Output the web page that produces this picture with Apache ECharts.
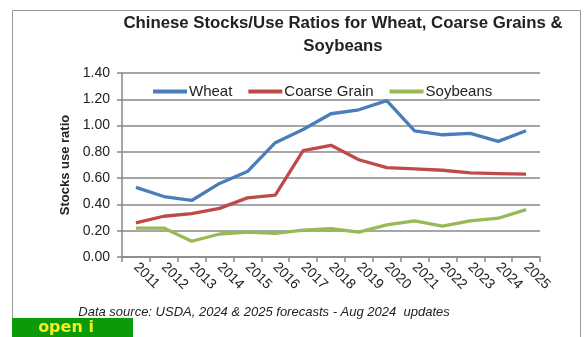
<!DOCTYPE html>
<html><head><meta charset="utf-8">
<script src="https://cdn.jsdelivr.net/npm/echarts@6/dist/echarts.min.js"></script>
<style>html,body{margin:0;padding:0;background:#fff}#c{width:584px;height:337px}</style>
</head><body><div id="c"></div>
<script>
const years = ['2011','2012','2013','2014','2015','2016','2017','2018','2019','2020','2021','2022','2023','2024','2025'];
const wheat = [0.53,0.46,0.43,0.56,0.65,0.87,0.97,1.09,1.12,1.19,0.96,0.93,0.94,0.88,0.96];
const coarse = [0.26,0.31,0.33,0.37,0.45,0.47,0.81,0.85,0.74,0.68,0.67,0.66,0.64,0.635,0.63];
const soy = [0.22,0.22,0.12,0.175,0.19,0.18,0.205,0.215,0.19,0.245,0.275,0.235,0.275,0.295,0.36];
const chart = echarts.init(document.getElementById('c'));
const F = 'Liberation Sans';
chart.setOption({
  animation:false,
  graphic:[
    {type:'rect',shape:{x:12.5,y:10.5,width:568,height:340},style:{fill:'none',stroke:'#999',lineWidth:1},z:-1},
    {type:'rect',shape:{x:12,y:318,width:121,height:19},style:{fill:'#0a9a0a'}},
    {type:'text',x:66,y:328,style:{text:'open i',fill:'#f0f020',font:'bold 16px DejaVu Sans',align:'center',verticalAlign:'middle'}},
    {type:'text',x:264,y:312,style:{text:'Data source: USDA, 2024 & 2025 forecasts - Aug 2024  updates',fill:'#222',font:'italic 13px '+F,align:'center',verticalAlign:'middle'}}
  ],
  title:{text:'Chinese Stocks/Use Ratios for Wheat, Coarse Grains &\nSoybeans',left:338,textAlign:'center',top:7,
    textStyle:{fontFamily:F,fontWeight:'bold',fontSize:16.8,color:'#222',lineHeight:23}},
  legend:{left:148,top:79,itemWidth:34,itemHeight:4,itemGap:16,icon:'rect',
    textStyle:{fontFamily:F,fontSize:15,color:'#222',padding:[0,0,0,-3]},
    data:['Wheat','Coarse Grain','Soybeans']},
  grid:{left:122,right:44,top:73,bottom:80,containLabel:false},
  xAxis:{type:'category',data:years,boundaryGap:true,
    axisLine:{lineStyle:{color:'#888',width:1.5}},
    axisTick:{show:true,length:5,lineStyle:{color:'#888',width:1.5}},
    axisLabel:{rotate:-45,fontFamily:F,fontSize:14,color:'#222',margin:8}},
  yAxis:{type:'value',min:0,max:1.4,interval:0.2,name:'Stocks use ratio',nameLocation:'middle',nameGap:50,
    nameTextStyle:{fontFamily:F,fontWeight:'bold',fontSize:13,color:'#222'},
    axisLine:{show:true,lineStyle:{color:'#888',width:1.5}},
    axisTick:{show:true,length:5,lineStyle:{color:'#888',width:1.5}},
    splitLine:{lineStyle:{color:'#888',width:1.5}},
    axisLabel:{fontFamily:F,fontSize:14,color:'#222',margin:12,formatter:v=>v.toFixed(2)}},
  series:[
    {name:'Wheat',type:'line',data:wheat,showSymbol:false,symbol:'none',lineStyle:{width:3.3,color:'#4a7ebb'},itemStyle:{color:'#4a7ebb'}},
    {name:'Coarse Grain',type:'line',data:coarse,showSymbol:false,symbol:'none',lineStyle:{width:3.3,color:'#be4b48'},itemStyle:{color:'#be4b48'}},
    {name:'Soybeans',type:'line',data:soy,showSymbol:false,symbol:'none',lineStyle:{width:3.3,color:'#98b954'},itemStyle:{color:'#98b954'}}
  ]
});
</script></body></html>
